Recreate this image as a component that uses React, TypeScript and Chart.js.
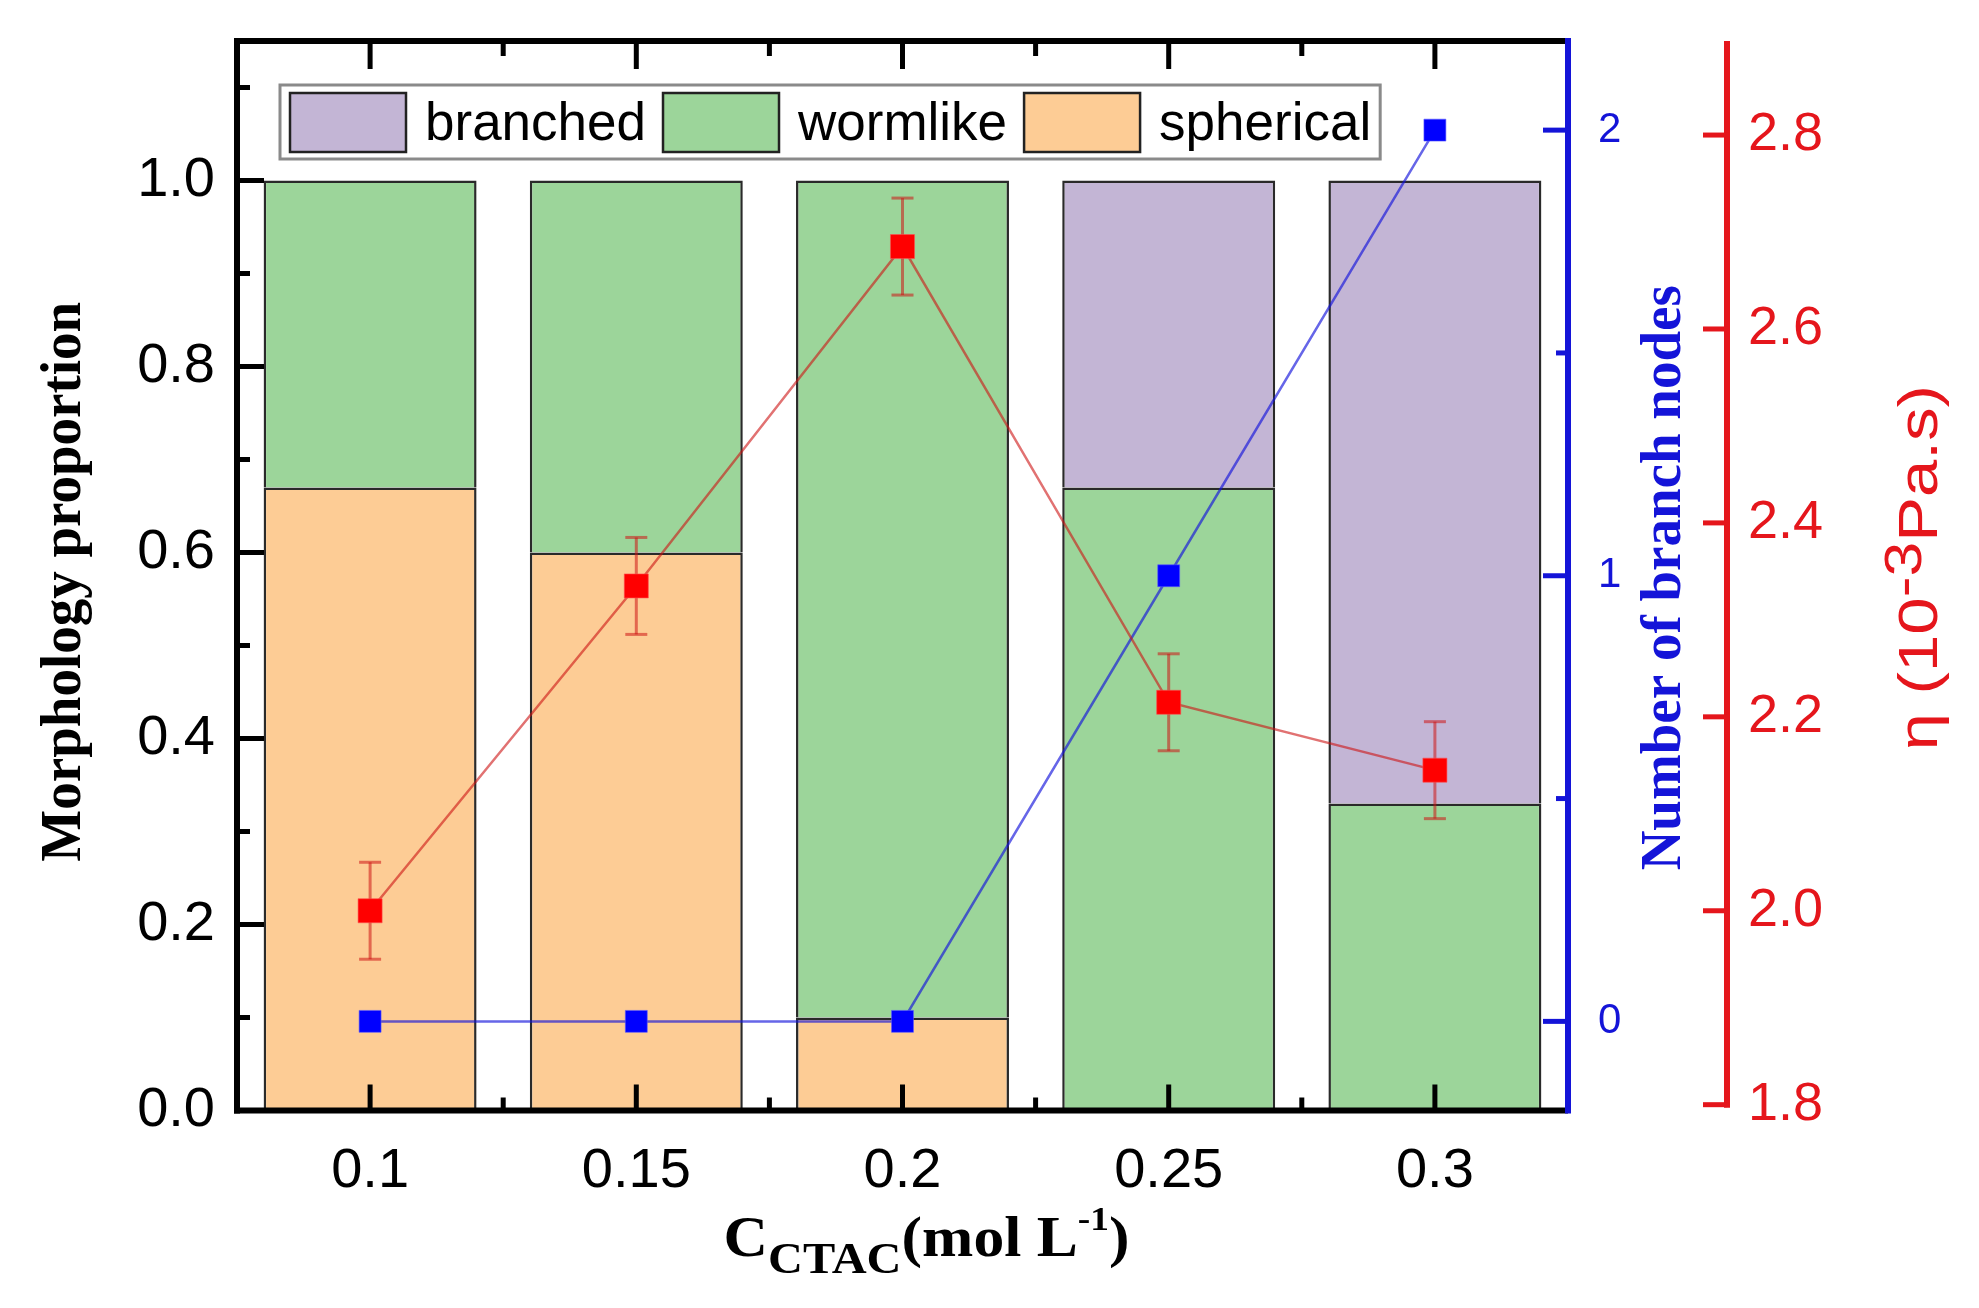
import React, { useEffect, useRef } from 'react';
import { Chart, registerables } from 'chart.js';

Chart.register(...registerables);

// ---- data ----
const categories = ['0.1', '0.15', '0.2', '0.25', '0.3'];
const spherical = [0.67, 0.6, 0.1, 0, 0];
const wormlike = [0.33, 0.4, 0.9, 0.67, 0.33];
const branched = [0, 0, 0, 0.33, 0.67];
const branchNodes = [0, 0, 0, 1, 2];
const viscosity = [2.0, 2.335, 2.685, 2.215, 2.145];
const viscosityErr = [0.05, 0.05, 0.05, 0.05, 0.05];

const proportionTicks = [0, 0.2, 0.4, 0.6, 0.8, 1.0];
const proportionMinorTicks = [0.1, 0.3, 0.5, 0.7, 0.9, 1.1];
const nodeTicks = [0, 1, 2];
const nodeMinorTicks = [0.5, 1.5];
const viscosityTicks = [1.8, 2.0, 2.2, 2.4, 2.6, 2.8];

const SANS = '"Liberation Sans", Arial, sans-serif';
const SERIF = '"Liberation Serif", "Times New Roman", serif';
const RED = '#E5161C';
const BLUE = '#1414D8';

type Part = { text: string; font: string; dy: number };

function drawRich(
  ctx: CanvasRenderingContext2D,
  parts: Part[],
  x: number,
  y: number,
  rotate: boolean,
  color: string,
  stretch = 1
) {
  ctx.save();
  ctx.translate(x, y);
  if (rotate) ctx.rotate(-Math.PI / 2);
  ctx.scale(stretch, 1);
  ctx.fillStyle = color;
  ctx.textBaseline = 'alphabetic';
  ctx.textAlign = 'left';
  const widths = parts.map((p) => {
    ctx.font = p.font;
    return ctx.measureText(p.text).width;
  });
  const total = widths.reduce((s, w) => s + w, 0);
  let cx = -total / 2;
  parts.forEach((p, i) => {
    ctx.font = p.font;
    ctx.fillText(p.text, cx, p.dy);
    cx += widths[i];
  });
  ctx.restore();
}

function seg(ctx: CanvasRenderingContext2D, x1: number, y1: number, x2: number, y2: number) {
  ctx.beginPath();
  ctx.moveTo(x1, y1);
  ctx.lineTo(x2, y2);
  ctx.stroke();
}

const errorBarPlugin = {
  id: 'errorBars',
  beforeDatasetDraw(chart: any, args: any) {
    if (chart.data.datasets[args.index].label !== 'viscosity') return;
    const { ctx } = chart;
    const yR = chart.scales.yR;
    const meta = chart.getDatasetMeta(args.index);
    ctx.save();
    ctx.strokeStyle = 'rgba(205,20,20,0.55)';
    ctx.lineWidth = 3;
    meta.data.forEach((pt: any, i: number) => {
      const top = yR.getPixelForValue(viscosity[i] + viscosityErr[i]);
      const bot = yR.getPixelForValue(viscosity[i] - viscosityErr[i]);
      seg(ctx, pt.x, top, pt.x, bot);
      seg(ctx, pt.x - 11, top, pt.x + 11, top);
      seg(ctx, pt.x - 11, bot, pt.x + 11, bot);
    });
    ctx.restore();
  },
};

const axesPlugin = {
  id: 'customAxes',
  afterDraw(chart: any) {
    const { ctx, chartArea: a, scales } = chart;
    const x = scales.x;
    const y = scales.y;
    const yB = scales.yB;
    const yR = scales.yR;
    ctx.save();
    ctx.lineCap = 'butt';

    // black frame
    ctx.strokeStyle = '#000';
    ctx.lineWidth = 6;
    seg(ctx, a.left, a.top - 3, a.left, a.bottom + 3);
    seg(ctx, a.left - 3, a.bottom, a.right, a.bottom);
    seg(ctx, a.left - 3, a.top, a.right, a.top);

    ctx.lineWidth = 5;
    proportionTicks.forEach((v) => {
      const p = y.getPixelForValue(v);
      seg(ctx, a.left, p, a.left + 27, p);
    });
    proportionMinorTicks.forEach((v) => {
      const p = y.getPixelForValue(v);
      seg(ctx, a.left, p, a.left + 13, p);
    });
    const centers = categories.map((_, i) => x.getPixelForValue(i));
    centers.forEach((p) => {
      seg(ctx, p, a.bottom, p, a.bottom - 26);
      seg(ctx, p, a.top, p, a.top + 28);
    });
    for (let i = 0; i < centers.length - 1; i++) {
      const p = (centers[i] + centers[i + 1]) / 2;
      seg(ctx, p, a.bottom, p, a.bottom - 13);
      seg(ctx, p, a.top, p, a.top + 15);
    }

    // blue axis
    ctx.strokeStyle = BLUE;
    ctx.lineWidth = 6;
    seg(ctx, a.right, a.top - 3, a.right, a.bottom + 3);
    ctx.lineWidth = 5;
    nodeTicks.forEach((v) => {
      const p = yB.getPixelForValue(v);
      seg(ctx, a.right, p, a.right - 25, p);
    });
    nodeMinorTicks.forEach((v) => {
      const p = yB.getPixelForValue(v);
      seg(ctx, a.right, p, a.right - 12, p);
    });

    // red axis
    ctx.strokeStyle = RED;
    ctx.lineWidth = 6;
    const rx = yR.left;
    const rBottom = yR.getPixelForValue(viscosityTicks[0]);
    seg(ctx, rx, a.top, rx, rBottom + 3);
    ctx.lineWidth = 5;
    viscosityTicks.forEach((v) => {
      const p = yR.getPixelForValue(v);
      seg(ctx, rx, p, rx - 24, p);
    });

    // axis titles
    const midY = (a.top + a.bottom) / 2;
    drawRich(ctx, [{ text: 'Morphology proportion', font: `bold 57px ${SERIF}`, dy: 0 }], 72, midY + 6, true, '#000', 0.965);
    drawRich(ctx, [{ text: 'Number of branch nodes', font: `bold 57px ${SERIF}`, dy: 0 }], a.right + 112, midY + 2, true, BLUE, 0.965);
    drawRich(
      ctx,
      [
        { text: 'η (10', font: `56px ${SANS}`, dy: 0 },
        { text: '-3', font: `52px ${SANS}`, dy: -16 },
        { text: 'Pa.s)', font: `56px ${SANS}`, dy: 0 },
      ],
      rx + 210,
      midY - 8,
      true,
      RED,
      1.2
    );
    drawRich(
      ctx,
      [
        { text: 'C', font: `bold 56px ${SERIF}`, dy: 0 },
        { text: 'CTAC', font: `bold 44px ${SERIF}`, dy: 17 },
        { text: '(mol L', font: `bold 56px ${SERIF}`, dy: 0 },
        { text: '-1', font: `bold 34px ${SERIF}`, dy: -26 },
        { text: ')', font: `bold 56px ${SERIF}`, dy: 0 },
      ],
      (a.left + a.right) / 2 + 24,
      a.bottom + 145,
      false,
      '#000',
      1.1
    );

    // legend (inside plot, top)
    const items = chart.data.datasets.filter((d: any) => d.type === 'bar').slice().reverse();
    const boxLeft = a.left + 43;
    const boxTop = a.top + 44;
    const boxH = 74;
    const swW = 116;
    const swH = 59;
    ctx.font = `53px ${SANS}`;
    let cx = a.left + 53;
    const layout: { sx: number; tx: number; d: any }[] = [];
    items.forEach((d: any) => {
      const tx = cx + swW + 19;
      layout.push({ sx: cx, tx, d });
      cx = tx + ctx.measureText(d.label).width + 17;
    });
    const boxRight = cx - 17 + 9;
    ctx.fillStyle = '#fff';
    ctx.fillRect(boxLeft, boxTop, boxRight - boxLeft, boxH);
    ctx.strokeStyle = '#8a8a8a';
    ctx.lineWidth = 3;
    ctx.strokeRect(boxLeft, boxTop, boxRight - boxLeft, boxH);
    layout.forEach(({ sx, tx, d }) => {
      ctx.fillStyle = d.backgroundColor;
      ctx.fillRect(sx, boxTop + 8, swW, swH);
      ctx.strokeStyle = '#222';
      ctx.lineWidth = 2.5;
      ctx.strokeRect(sx, boxTop + 8, swW, swH);
      ctx.fillStyle = '#000';
      ctx.textAlign = 'left';
      ctx.textBaseline = 'alphabetic';
      ctx.fillText(d.label, tx, boxTop + 55);
    });
    ctx.restore();
  },
};

const noGrid = { display: false, drawTicks: false };

const zeroVPad = (s: any) => {
  s.paddingTop = 0;
  s.paddingBottom = 0;
};

export default function App() {
  const ref = useRef<HTMLCanvasElement | null>(null);

  useEffect(() => {
    if (!ref.current) return;
    const barCommon = {
      type: 'bar' as const,
      yAxisID: 'y',
      borderColor: '#2a2a2a',
      borderWidth: 2.5,
      barPercentage: 0.8,
      categoryPercentage: 1.0,
      order: 3,
    };
    const chart = new Chart(ref.current, {
      type: 'bar',
      data: {
        labels: categories,
        datasets: [
          {
            type: 'line',
            label: 'viscosity',
            data: viscosity,
            yAxisID: 'yR',
            borderColor: 'rgba(205,20,20,0.6)',
            borderWidth: 2.5,
            pointStyle: 'rect',
            pointRadius: 17,
            pointBackgroundColor: '#FF0000',
            pointBorderColor: 'rgba(255,80,80,0.6)',
            pointBorderWidth: 1,
            order: 0,
          } as any,
          {
            type: 'line',
            label: 'nodes',
            data: branchNodes,
            yAxisID: 'yB',
            borderColor: 'rgba(20,20,220,0.65)',
            borderWidth: 2.5,
            pointStyle: 'rect',
            pointRadius: 15.5,
            pointBackgroundColor: '#0000FF',
            pointBorderColor: 'rgba(90,90,255,0.6)',
            pointBorderWidth: 1,
            order: 1,
          } as any,
          { ...barCommon, label: 'spherical', data: spherical, backgroundColor: '#FDCC95' },
          { ...barCommon, label: 'wormlike', data: wormlike, backgroundColor: '#9CD59A' },
          { ...barCommon, label: 'branched', data: branched, backgroundColor: '#C3B5D5' },
        ],
      },
      options: {
        animation: false,
        responsive: true,
        maintainAspectRatio: false,
        layout: { padding: { top: 33, left: 0, right: 0, bottom: 0 } },
        plugins: { legend: { display: false }, tooltip: { enabled: false } },
        scales: {
          x: {
            type: 'category',
            stacked: true,
            offset: true,
            grid: noGrid,
            border: { display: false },
            ticks: { color: '#000', font: { family: SANS, size: 56 }, padding: 27, maxRotation: 0 },
            afterFit: (s: any) => {
              s.height = 189.5;
              s.paddingLeft = 0;
              s.paddingRight = 0;
            },
          },
          y: {
            position: 'left',
            stacked: true,
            min: 0,
            max: 1.15,
            grid: noGrid,
            border: { display: false },
            afterBuildTicks: (s: any) => {
              s.ticks = proportionTicks.map((v) => ({ value: v }));
            },
            ticks: {
              color: '#000',
              font: { family: SANS, size: 56 },
              padding: 22,
              callback: (v: any) => Number(v).toFixed(1),
            },
            afterFit: (s: any) => {
              s.width = 229;
              zeroVPad(s);
            },
          },
          yB: {
            position: 'right',
            weight: 0,
            min: -0.2,
            max: 2.2,
            grid: noGrid,
            border: { display: false },
            afterBuildTicks: (s: any) => {
              s.ticks = nodeTicks.map((v) => ({ value: v }));
            },
            ticks: {
              color: BLUE,
              font: { family: SANS, size: 42 },
              padding: 30,
              callback: (v: any) => String(v),
            },
            afterFit: (s: any) => {
              s.width = 159;
              zeroVPad(s);
            },
          },
          yR: {
            position: 'right',
            weight: 1,
            min: 1.794,
            max: 2.897,
            grid: noGrid,
            border: { display: false },
            afterBuildTicks: (s: any) => {
              s.ticks = viscosityTicks.map((v) => ({ value: v }));
            },
            ticks: {
              color: RED,
              font: { family: SANS, size: 54 },
              padding: 21,
              callback: (v: any) => Number(v).toFixed(1),
            },
            afterFit: (s: any) => {
              s.width = 244;
              zeroVPad(s);
            },
          },
        } as any,
      },
      plugins: [errorBarPlugin, axesPlugin],
    });
    return () => chart.destroy();
  }, []);

  return (
    <div style={{ width: 1963, height: 1292, position: 'relative' }}>
      <canvas ref={ref} />
    </div>
  );
}
